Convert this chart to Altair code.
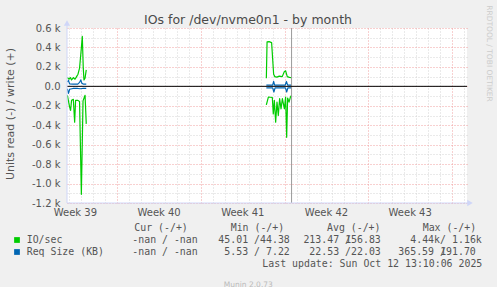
import altair as alt
import pandas as pd

# ---------------- data ----------------
TITLE = "IOs for /dev/nvme0n1 - by month"
Y_TITLE = "Units read (-) / write (+)"
WATERMARK = "RRDTOOL / TOBI OETIKER"
FOOTER = "Munin 2.0.73"
LAST_UPDATE = "Last update: Sun Oct 12 13:10:06 2025"

week_labels = ["Week 39", "Week 40", "Week 41", "Week 42", "Week 43"]
week_centers = [0.7, 7.7, 14.7, 21.7, 28.7]          # days from left edge
day_ticks = [0.2 + i for i in range(34)]              # daily grid (weeks start at 4.2 + 7k)
x_domain = [0, 33.45]
y_domain = [-1200, 600]
y_ticks = list(range(-1200, 601, 100))
now_day = 18.78

# IO/sec, write (+) and read (-)
io_w1_x = [0.03, 0.17, 0.28, 0.38, 0.53, 0.67, 0.80, 0.92, 1.05, 1.20, 1.28, 1.36, 1.42, 1.51, 1.61]
io_w1_y = [90, 73, 90, 66, 90, 73, 100, 125, 187, 395, 515, 187, 66, 84, 170]
io_r1_x = [0.03, 0.22, 0.30, 0.38, 0.53, 0.64, 0.72, 0.89, 1.05, 1.20, 1.34, 1.51, 1.61]
io_r1_y = [-92, -213, -248, -144, -134, -369, -144, -144, -155, -1111, -150, -92, -386]
io_w2_x = [16.67, 16.73, 16.90, 17.11, 17.28, 17.38, 17.55, 17.75, 18.00, 18.17, 18.28, 18.42, 18.60, 18.78]
io_w2_y = [84, 457, 460, 450, 125, 100, 95, 105, 100, 150, 160, 100, 92, 90]
io_r2_x = [16.67, 16.84, 17.17, 17.25, 17.34, 17.45, 17.56, 17.67, 17.78, 17.90, 18.01, 18.18, 18.28, 18.37, 18.45, 18.57, 18.68, 18.78]
io_r2_y = [-190, -110, -115, -283, -145, -369, -162, -300, -127, -231, -127, -231, -110, -524, -120, -162, -110, -93]

# Req Size (KB), write (+) and read (-)
rq_w1_x = [0.03, 0.12, 0.22, 0.50, 0.90, 1.05, 1.15, 1.25, 1.40, 1.61]
rq_w1_y = [45, 60, 25, 22, 22, 40, 66, 30, 22, 22]
rq_r1_x = [0.03, 0.12, 0.22, 0.50, 0.90, 1.10, 1.30, 1.61]
rq_r1_y = [-25, -72, -30, -22, -22, -25, -22, -22]
rq_w2_x = [16.67, 17.20, 17.28, 17.36, 18.25, 18.35, 18.45, 18.78]
rq_w2_y = [12, 12, 50, 12, 12, 50, 12, 12]
rq_r2_x = [16.67, 17.20, 17.30, 17.40, 18.27, 18.37, 18.47, 18.78]
rq_r2_y = [-15, -15, -58, -15, -15, -58, -15, -15]

series_names = ["IO/sec", "Req Size (KB)"]
series_colors = ["#00cc00", "#0066b3"]
legend_headers = ["Cur (-/+)", "Min (-/+)", "Avg (-/+)", "Max (-/+)"]
cur_vals = ["-nan / -nan", "-nan / -nan"]
min_read = ["45.01", "5.53"]
min_write = ["44.38", "7.22"]
avg_read = ["213.47", "22.53"]
avg_write = ["156.83", "22.03"]
max_read = ["4.44k", "365.59"]
max_write = ["1.16k", "191.70"]

# ---------------- table ----------------
rows = []
def add(xs, ys, series, seg):
    for i, (a, b) in enumerate(zip(xs, ys)):
        rows.append({"day": a, "value": b, "series": series, "seg": seg, "i": i})

add(io_w1_x, io_w1_y, "IO/sec", "io_w1")
add(io_r1_x, io_r1_y, "IO/sec", "io_r1")
add(io_w2_x, io_w2_y, "IO/sec", "io_w2")
add(io_r2_x, io_r2_y, "IO/sec", "io_r2")
add(rq_w1_x, rq_w1_y, "Req Size (KB)", "rq_w1")
add(rq_r1_x, rq_r1_y, "Req Size (KB)", "rq_r1")
add(rq_w2_x, rq_w2_y, "Req Size (KB)", "rq_w2")
add(rq_r2_x, rq_r2_y, "Req Size (KB)", "rq_r2")
df = pd.DataFrame(rows)

# ---------------- layout ----------------
PL, PT, W, H = 67, 28, 400, 175
SANS = "DejaVu Sans"
MONO = "DejaVu Sans Mono"
AXIS_C = "#cfd6f8"
MAJOR = "#f0a0a0"
MINOR = "#d4d4d4"

x_scale = alt.Scale(domain=x_domain, nice=False, zero=False)
y_scale = alt.Scale(domain=y_domain, nice=False, zero=False)

x_axis = alt.Axis(
    values=day_ticks, labels=False, ticks=False, domain=False, title=None,
    grid=True, gridDash=[1, 2], gridWidth=1,
    gridColor={"condition": {"test": "abs((datum.value - 4.2) / 7 - round((datum.value - 4.2) / 7)) < 0.01",
                             "value": MAJOR}, "value": MINOR},
)
y_axis = alt.Axis(
    values=y_ticks, ticks=False, domain=False, title=None,
    grid=True, gridDash=[1, 2], gridWidth=1,
    gridColor={"condition": {"test": "datum.value % 200 == 0", "value": MAJOR}, "value": MINOR},
    labelExpr="datum.value % 200 != 0 ? '' : (datum.value == 0 ? '0.0' : (datum.value < 0 ? '-' : '') + format(abs(datum.value) / 1000, '.1f') + ' k')",
    labelFont=SANS, labelFontSize=10, labelColor="#555555", labelPadding=7,
)

X = alt.X("day:Q", scale=x_scale, axis=x_axis)
Y = alt.Y("value:Q", scale=y_scale, axis=y_axis)

lines = alt.Chart(df).mark_line(strokeWidth=1.2, clip=True, strokeJoin="round").encode(
    x=X, y=Y,
    color=alt.Color("series:N", scale=alt.Scale(domain=series_names, range=series_colors), legend=None),
    detail="seg:N", order="i:Q",
)

zero = alt.Chart(pd.DataFrame({"value": [0]})).mark_rule(color="black", strokeWidth=1).encode(y=Y)
now = alt.Chart(pd.DataFrame({"day": [now_day]})).mark_rule(color="#9a9a9a", strokeWidth=1).encode(x=X)

weeks = alt.Chart(pd.DataFrame({"day": week_centers, "label": week_labels})).mark_text(
    font=SANS, fontSize=10, color="#555555", baseline="alphabetic", align="center"
).encode(x=X, y=alt.value(216 - PT), text="label:N")

one = pd.DataFrame({"k": [0]})

def txt(s, x, y, align="left", size=9.9, font=MONO, color="#555555", angle=0, baseline="alphabetic"):
    return alt.Chart(one).mark_text(
        text=s, font=font, fontSize=size, color=color, align=align, baseline=baseline, angle=angle
    ).encode(x=alt.value(x - PL), y=alt.value(y - PT))

decor = []
# axes lines and arrows
decor.append(alt.Chart(one).mark_rule(color=AXIS_C, strokeWidth=1).encode(
    x=alt.value(0), y=alt.value(-6), y2=alt.value(H)))
decor.append(alt.Chart(one).mark_rule(color=AXIS_C, strokeWidth=1).encode(
    x=alt.value(0), x2=alt.value(W + 3), y=alt.value(H)))
decor.append(alt.Chart(one).mark_point(shape="triangle-up", filled=True, color=AXIS_C, size=40, opacity=1).encode(
    x=alt.value(0), y=alt.value(-5)))
decor.append(alt.Chart(one).mark_point(shape="triangle-right", filled=True, color=AXIS_C, size=40, opacity=1).encode(
    x=alt.value(W + 3), y=alt.value(H)))

# titles
decor.append(txt(TITLE, 248, 24.3, align="center", size=12.5, font=SANS, color="#4a4a4a"))
decor.append(txt(Y_TITLE, 11, 114, align="center", size=11, font=SANS, color="#555555", angle=270, baseline="middle"))
decor.append(txt(WATERMARK, 488.5, 53.5, align="center", size=7.5, font=SANS, color="#cccccc", angle=90, baseline="middle"))
decor.append(txt(FOOTER, 248.3, 286.5, align="center", size=7.5, font=SANS, color="#bbbbbb"))

# legend
hdr_x = [134.3, 230.7, 327, 422.7]
for h, hx in zip(legend_headers, hdr_x):
    decor.append(txt(h, hx, 231, "left"))
row_y = [243, 255]
max_read_r = [440, 434]
max_write_r = [481.8, 475.8]
for k in range(2):
    yb = row_y[k]
    decor.append(alt.Chart(one).mark_square(size=33, color=series_colors[k], opacity=1).encode(
        x=alt.value(17 - PL), y=alt.value(yb - 3 - PT)))
    decor.append(txt(series_names[k], 26.7, yb))
    decor.append(txt(cur_vals[k], 132.3, yb))
    decor.append(txt(min_read[k], 248.1, yb, "right"))
    decor.append(txt("/", 254, yb))
    decor.append(txt(min_write[k], 289.8, yb, "right"))
    decor.append(txt(avg_read[k], 339.1, yb, "right"))
    decor.append(txt("/", 345, yb))
    decor.append(txt(avg_write[k], 380.8, yb, "right"))
    decor.append(txt(max_read[k], max_read_r[k], yb, "right"))
    decor.append(txt("/", 440, yb))
    decor.append(txt(max_write[k], max_write_r[k], yb, "right"))
decor.append(txt(LAST_UPDATE, 482.3, 267, "right"))

chart = alt.layer(lines, now, zero, weeks, *decor).properties(
    width=W, height=H,
    autosize=alt.AutoSizeParams(type="none"),
    padding={"left": PL, "top": PT, "right": 497 - PL - W, "bottom": 287 - PT - H},
    background="#f0f0f0",
).configure_view(fill="white", stroke=None)

chart.save("out.html", embed_options={"renderer": "svg", "actions": False})
